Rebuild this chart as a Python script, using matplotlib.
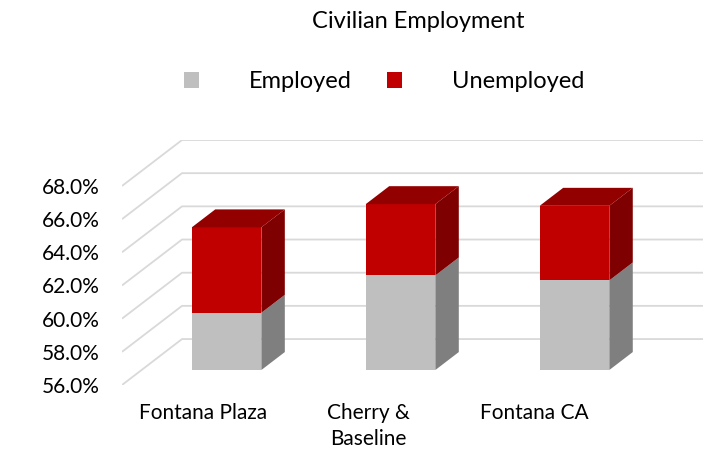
import matplotlib
matplotlib.use('Agg')
import matplotlib.pyplot as plt
from matplotlib.patches import Polygon, Patch

plt.rcParams['font.family'] = ['Lato', 'DejaVu Sans']

# Data (percent of population 16+)
categories = ['Fontana Plaza', 'Cherry &\nBaseline', 'Fontana CA']
employed = [59.45, 61.7, 61.4]
unemployed = [5.15, 4.3, 4.5]
y_ticks = [56, 58, 60, 62, 64, 66, 68]

# Styling
EMP_FRONT, EMP_SIDE = '#BFBFBF', '#7F7F7F'
UNE_FRONT, UNE_SIDE, UNE_TOP = '#C00000', '#7F0000', '#930000'
GRID = '#D9D9D9'

# Oblique projection of the "3-D" box (in data units)
Y0 = 56.0
DEPTH_X, DEPTH_Y = 0.345, 2.77          # full depth of the plot box
BAR_Z0, BAR_Z1 = 0.326, 0.717           # depth slice occupied by bars
BAR_W = 0.40
X_LEFT, X_RIGHT = -0.4885, 2.851


def offs(z):
    return DEPTH_X * z, DEPTH_Y * z


def draw_box_bar(ax, x, lo, hi, front, side, top=None):
    fx, fy = offs(BAR_Z0)
    dx = DEPTH_X * (BAR_Z1 - BAR_Z0)
    dy = DEPTH_Y * (BAR_Z1 - BAR_Z0)
    ax.bar(x + fx, hi - lo, bottom=lo + fy, width=BAR_W, color=front,
           linewidth=0, zorder=3)
    r = x + fx + BAR_W / 2
    l = x + fx - BAR_W / 2
    ax.add_patch(Polygon([(r, lo + fy), (r + dx, lo + fy + dy),
                          (r + dx, hi + fy + dy), (r, hi + fy)],
                         closed=True, facecolor=side, lw=0, zorder=3))
    if top:
        ax.add_patch(Polygon([(l, hi + fy), (l + dx, hi + fy + dy),
                              (r + dx, hi + fy + dy), (r, hi + fy)],
                             closed=True, facecolor=top, lw=0, zorder=3))


fig = plt.figure(figsize=(7.11, 4.54), dpi=100)
ax = fig.add_axes([122 / 711, 69 / 454, 581 / 711, 245 / 454])
ax.set_xlim(X_LEFT, X_RIGHT)
ax.set_ylim(Y0, y_ticks[-1] + DEPTH_Y)

# left wall + back wall gridlines
bx, by = offs(1.0)
for t in y_ticks:
    ax.plot([X_LEFT, X_LEFT + bx, X_RIGHT], [t, t + by, t + by],
            color=GRID, lw=1.3, zorder=1, solid_capstyle='butt')

for i, (e, u) in enumerate(zip(employed, unemployed)):
    draw_box_bar(ax, i, Y0, e, EMP_FRONT, EMP_SIDE)
    draw_box_bar(ax, i, e, e + u, UNE_FRONT, UNE_SIDE, UNE_TOP)

ax.set_yticks(y_ticks)
ax.set_yticklabels([f'{t:.1f}%' for t in y_ticks])
label_pos = [i * 0.952 - 0.023 for i in range(len(categories))]
ax.set_xticks(label_pos)
ax.set_xticklabels(categories, linespacing=1.35)
ax.tick_params(axis='y', length=0, pad=16, labelsize=15, colors='#000000')
ax.tick_params(axis='x', length=0, pad=13, labelsize=15, colors='#000000')
for s in ax.spines.values():
    s.set_visible(False)
ax.set_facecolor('none')

fig.text(418 / 711, 1 - 22 / 454, 'Civilian Employment', ha='center',
         va='center', fontsize=17)
handles = [Patch(facecolor=EMP_FRONT, label='Employed'),
           Patch(facecolor=UNE_FRONT, label='Unemployed')]
fig.legend(handles=handles, loc='center',
           bbox_to_anchor=(384 / 711, 1 - 82 / 454),
           ncol=2, frameon=False, fontsize=17, handlelength=0.64,
           handleheight=0.64, handletextpad=2.1, columnspacing=1.5)

fig.savefig('out.png', dpi=100)
